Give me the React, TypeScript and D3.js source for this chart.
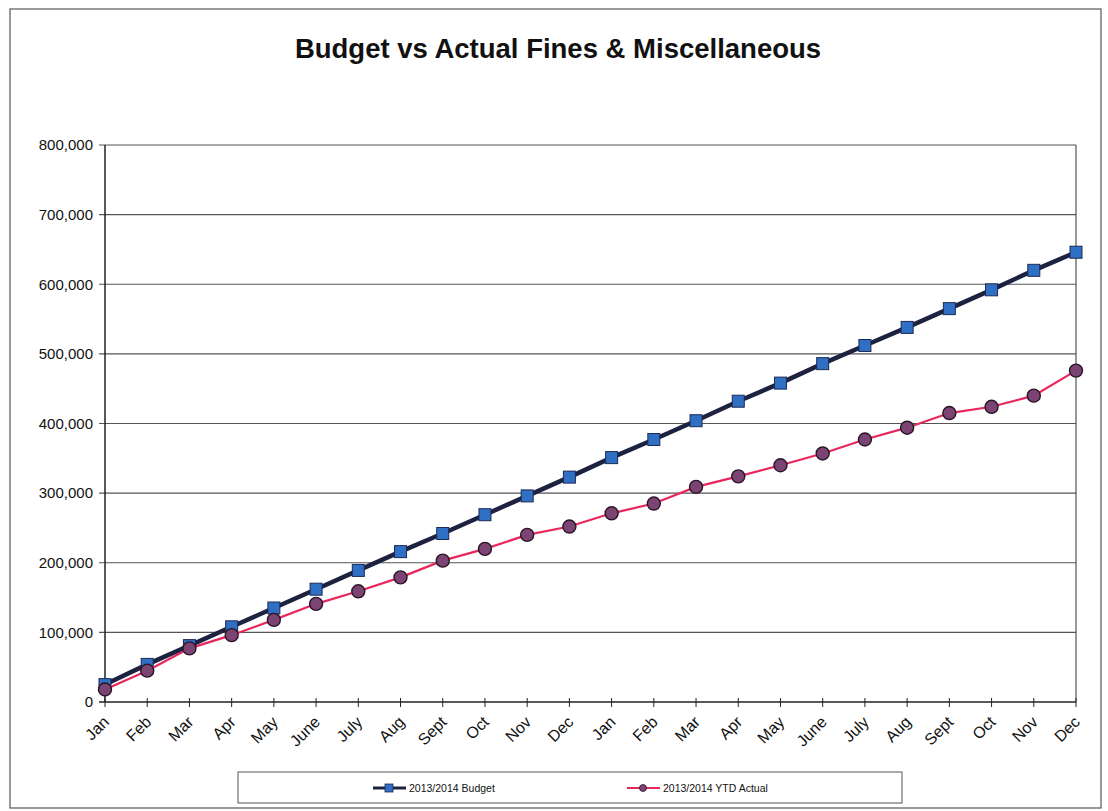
import React from "react";
import * as d3 from "d3";

const months = [
  "Jan", "Feb", "Mar", "Apr", "May", "June", "July", "Aug", "Sept", "Oct", "Nov", "Dec",
  "Jan", "Feb", "Mar", "Apr", "May", "June", "July", "Aug", "Sept", "Oct", "Nov", "Dec",
];

const budget = [
  25000, 54000, 81000, 108000, 135000, 162000, 189000, 216000, 242000, 269000, 296000, 323000,
  351000, 377000, 404000, 432000, 458000, 486000, 512000, 538000, 565000, 592000, 620000, 646000,
];

const actual = [
  18000, 45000, 77000, 96000, 118000, 141000, 159000, 179000, 203000, 220000, 240000, 252000,
  271000, 285000, 309000, 324000, 340000, 357000, 377000, 394000, 415000, 424000, 440000, 476000,
];

const yTicks = [0, 100000, 200000, 300000, 400000, 500000, 600000, 700000, 800000];

const W = 1108;
const H = 811;
const plot = { left: 105, right: 1076, top: 145, bottom: 702 };

export default function App() {
  const x = d3
    .scalePoint<number>()
    .domain(d3.range(months.length))
    .range([plot.left, plot.right]);
  const y = d3.scaleLinear().domain([0, 800000]).range([plot.bottom, plot.top]);
  const fmt = d3.format(",");

  const line = d3
    .line<number>()
    .x((_, i) => x(i) as number)
    .y((d) => y(d));

  const font = "'Liberation Sans', Arial, sans-serif";

  return (
    <svg
      width={W}
      height={H}
      style={{ position: "absolute", left: 0, top: 0, background: "#fff" }}
      fontFamily={font}
    >
      {/* chart frame */}
      <rect x={10} y={9} width={1091} height={799} fill="none" stroke="#555" strokeWidth={1.2} />

      <text x={558} y={58} textAnchor="middle" fontSize={27.5} fontWeight="bold" fill="#111">
        Budget vs Actual Fines &amp; Miscellaneous
      </text>

      {/* gridlines and y axis */}
      {yTicks.map((t) => (
        <g key={t}>
          <line
            x1={plot.left - 6}
            x2={plot.right}
            y1={y(t)}
            y2={y(t)}
            stroke={t === 0 ? "#222" : "#555"}
            strokeWidth={t === 0 ? 1.6 : 1.1}
          />
          <text
            x={plot.left - 12}
            y={y(t)}
            dy="0.35em"
            textAnchor="end"
            fontSize={15}
            fill="#111"
          >
            {fmt(t)}
          </text>
        </g>
      ))}
      <line x1={plot.left} x2={plot.left} y1={plot.top} y2={plot.bottom} stroke="#222" strokeWidth={1.5} />
      <line x1={plot.right} x2={plot.right} y1={plot.top} y2={plot.bottom} stroke="#444" strokeWidth={1.1} />

      {/* x axis ticks and labels */}
      {months.map((m, i) => {
        const xi = x(i) as number;
        return (
          <g key={i}>
            <line x1={xi} x2={xi} y1={plot.bottom - 4} y2={plot.bottom + 5} stroke="#222" strokeWidth={1} />
            <text
              transform={`translate(${xi + 5},${plot.bottom + 21}) rotate(-45)`}
              textAnchor="end"
              fontSize={16}
              fill="#111"
            >
              {m}
            </text>
          </g>
        );
      })}

      {/* budget series */}
      <path d={line(budget) ?? ""} fill="none" stroke="#1c2240" strokeWidth={4.5} />
      {budget.map((v, i) => (
        <rect
          key={i}
          x={(x(i) as number) - 6}
          y={y(v) - 6}
          width={12}
          height={12}
          fill="#2f6fc4"
          stroke="#1c2a55"
          strokeWidth={1}
        />
      ))}

      {/* actual series */}
      <path d={line(actual) ?? ""} fill="none" stroke="#e8275c" strokeWidth={2.2} />
      {actual.map((v, i) => (
        <circle
          key={i}
          cx={x(i) as number}
          cy={y(v)}
          r={6.5}
          fill="#7b4472"
          stroke="#2a1528"
          strokeWidth={1.4}
        />
      ))}

      {/* legend */}
      <rect x={238} y={772} width={664} height={31} fill="#fff" stroke="#555" strokeWidth={1} />
      <g transform="translate(0,788)">
        <line x1={373} x2={406} y1={0} y2={0} stroke="#1c2240" strokeWidth={3} />
        <rect x={385} y={-4} width={8} height={8} fill="#2f6fc4" stroke="#1c2a55" strokeWidth={0.8} />
        <text x={409} y={0} dy="0.35em" fontSize={10.5} fill="#111">
          2013/2014 Budget
        </text>
        <line x1={627} x2={660} y1={0} y2={0} stroke="#e8275c" strokeWidth={2} />
        <circle cx={643} cy={0} r={3.5} fill="#7b4472" stroke="#2a1528" strokeWidth={0.8} />
        <text x={663} y={0} dy="0.35em" fontSize={10.5} fill="#111">
          2013/2014 YTD Actual
        </text>
      </g>
    </svg>
  );
}
